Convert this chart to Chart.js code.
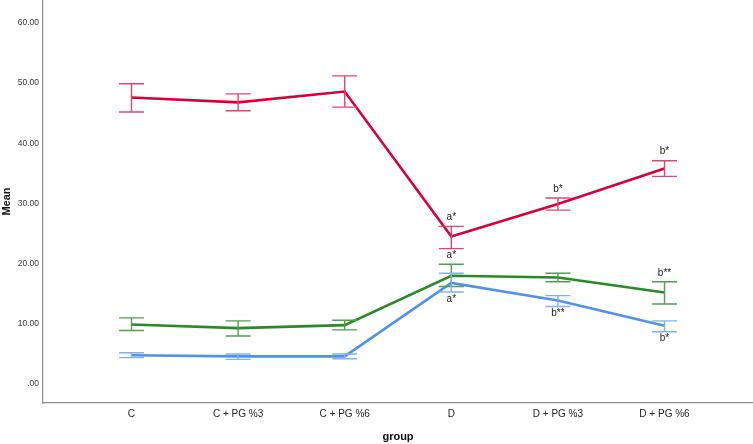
<!DOCTYPE html>
<html>
<head>
<meta charset="utf-8">
<script src="https://cdn.jsdelivr.net/npm/chart.js@4/dist/chart.umd.min.js"></script>
<style>
  body { margin: 0; background: #fff; }
  #wrap { width: 753px; height: 444px; position: relative; }
</style>
</head>
<body>
<div id="wrap"><canvas id="meanChart"></canvas></div>
<script>
// groups on the x axis
const groups = ['C', 'C + PG %3', 'C + PG %6', 'D', 'D + PG %3', 'D + PG %6'];
const yTicks = [0, 10, 20, 30, 40, 50, 60];

// red series: means and error bar ends
const redMean  = [47.6, 46.8, 48.6, 24.5, 29.9, 35.8];
const redLow   = [45.2, 45.4, 46.0, 22.5, 28.9, 34.5];
const redHigh  = [49.9, 48.2, 51.2, 26.2, 30.9, 37.1];

// green series
const greenMean = [9.9, 9.3, 9.8, 18.0, 17.7, 15.2];
const greenLow  = [8.9, 8.0, 9.0, 16.2, 17.0, 13.3];
const greenHigh = [11.0, 10.5, 10.6, 19.9, 18.4, 17.0];

// blue series
const blueMean = [4.8, 4.6, 4.6, 16.8, 13.9, 9.7];
const blueLow  = [4.4, 4.1, 4.2, 15.3, 12.9, 8.7];
const blueHigh = [5.2, 5.0, 5.0, 18.4, 14.7, 10.5];

// significance letters ('' = none), placed above (red, green) or below (blue) the bars
const redMarks   = ['', '', '', 'a*', 'b*', 'b*'];
const greenMarks = ['', '', '', 'a*', '', 'b**'];
const blueMarks  = ['', '', '', 'a*', 'b**', 'b*'];

const FONT = "'Liberation Sans', Arial, sans-serif";

function pts(arr) {
    return arr.map((v, i) => ({ x: i, y: v }));
}

const series = [
    { mean: redMean, low: redLow, high: redHigh, marks: redMarks, side: 'above', line: '#d6003a', bar: '#e2456d' },
    { mean: greenMean, low: greenLow, high: greenHigh, marks: greenMarks, side: 'above', line: '#2a8a2a', bar: '#4f9f4f' },
    { mean: blueMean, low: blueLow, high: blueHigh, marks: blueMarks, side: 'below', line: '#4f93e6', bar: '#80b2f0' }
];

// draw error bars + the letters
const errorBars = {
    id: 'errorBars',
    afterDatasetsDraw(chart) {
        const ctx = chart.ctx;
        const xs = chart.scales.x, ys = chart.scales.y;
        const cap = 12.5;
        ctx.save();
        series.forEach(s => {
            ctx.strokeStyle = s.bar;
            ctx.lineWidth = 1.4;
            s.mean.forEach((m, i) => {
                const px = xs.getPixelForValue(i);
                const lo = ys.getPixelForValue(s.low[i]);
                const hi = ys.getPixelForValue(s.high[i]);
                ctx.beginPath();
                ctx.moveTo(px, lo); ctx.lineTo(px, hi);
                ctx.moveTo(px - cap, lo); ctx.lineTo(px + cap, lo);
                ctx.moveTo(px - cap, hi); ctx.lineTo(px + cap, hi);
                ctx.stroke();
            });
        });
        ctx.fillStyle = '#222';
        ctx.font = '10px ' + FONT;
        ctx.textAlign = 'center';
        ctx.textBaseline = 'middle';
        series.forEach(s => {
            s.marks.forEach((t, i) => {
                if (!t) return;
                const px = xs.getPixelForValue(i);
                const py = s.side === 'above'
                    ? ys.getPixelForValue(s.high[i]) - 9
                    : ys.getPixelForValue(s.low[i]) + 7;
                ctx.fillText(t, px, py);
            });
        });
        ctx.restore();
    }
};

new Chart(document.getElementById('meanChart'), {
    type: 'line',
    data: {
        datasets: series.map(s => ({
            data: pts(s.mean),
            borderColor: s.line,
            borderWidth: 2.6,
            pointRadius: 0,
            pointHoverRadius: 0,
            pointBorderWidth: 0,
            pointHoverBorderWidth: 0,
            tension: 0,
            fill: false
        }))
    },
    options: {
        responsive: true,
        maintainAspectRatio: false,
        animation: false,
        layout: { padding: 0 },
        plugins: { legend: { display: false }, tooltip: { enabled: false } },
        scales: {
            x: {
                type: 'linear',
                min: -0.83,
                max: 5.83,
                afterBuildTicks: sc => { sc.ticks = groups.map((g, i) => ({ value: i })); },
                afterFit: sc => { sc.height = 41; sc.paddingLeft = 0; sc.paddingRight = 0; },
                grid: { display: false, drawTicks: false },
                border: { color: '#8c8c8c', width: 1.2 },
                ticks: {
                    callback: v => groups[v],
                    font: { family: FONT, size: 10 },
                    color: '#222',
                    padding: 5,
                    maxRotation: 0,
                    autoSkip: false
                },
                title: {
                    display: true,
                    text: 'group',
                    font: { family: FONT, size: 11, weight: 'bold' },
                    color: '#111',
                    padding: { top: 0, bottom: 0 }
                }
            },
            y: {
                min: -3.14,
                max: 63.8,
                afterBuildTicks: sc => { sc.ticks = yTicks.map(v => ({ value: v })); },
                afterFit: sc => { sc.width = 43; sc.paddingTop = 0; sc.paddingBottom = 0; },
                grid: { display: false, drawTicks: false },
                border: { color: '#8c8c8c', width: 1.2 },
                ticks: {
                    callback: v => v === 0 ? '.00' : v.toFixed(2),
                    font: { family: FONT, size: 8.5 },
                    color: '#333',
                    padding: 4
                },
                title: {
                    display: true,
                    text: 'Mean',
                    font: { family: FONT, size: 11, weight: 'bold' },
                    color: '#111',
                    padding: { top: 0, bottom: 0 }
                }
            }
        }
    },
    plugins: [errorBars]
});
</script>
</body>
</html>
